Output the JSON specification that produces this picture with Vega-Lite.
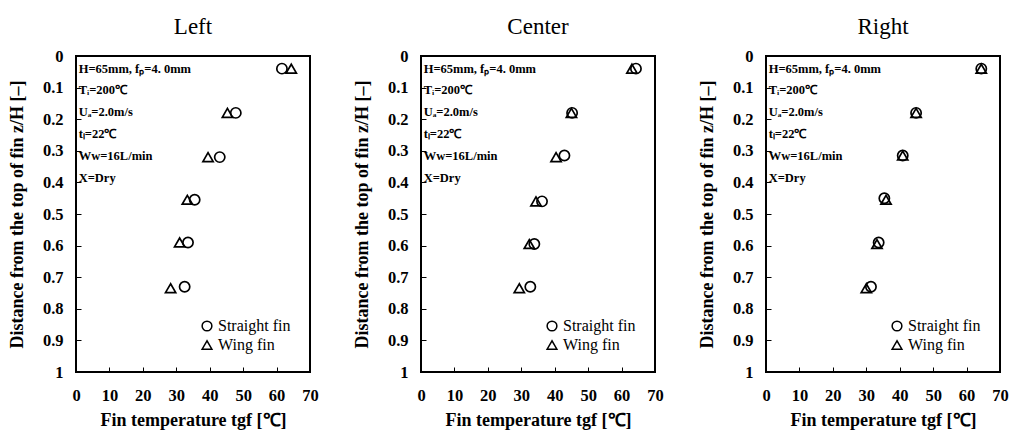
{
  "$schema": "https://vega.github.io/schema/vega-lite/v6.json",
  "background": "white",
  "padding": {"left": 7, "top": 15, "right": 3, "bottom": 0},
  "data": {"values": [
    {"panel": "Left", "fin": "Straight fin", "temp": 61.6, "z": 0.04},
    {"panel": "Left", "fin": "Straight fin", "temp": 47.8, "z": 0.18},
    {"panel": "Left", "fin": "Straight fin", "temp": 43.0, "z": 0.32},
    {"panel": "Left", "fin": "Straight fin", "temp": 35.5, "z": 0.455},
    {"panel": "Left", "fin": "Straight fin", "temp": 33.5, "z": 0.59},
    {"panel": "Left", "fin": "Straight fin", "temp": 32.5, "z": 0.73},
    {"panel": "Left", "fin": "Wing fin", "temp": 64.4, "z": 0.04},
    {"panel": "Left", "fin": "Wing fin", "temp": 45.3, "z": 0.18},
    {"panel": "Left", "fin": "Wing fin", "temp": 39.5, "z": 0.32},
    {"panel": "Left", "fin": "Wing fin", "temp": 33.3, "z": 0.455},
    {"panel": "Left", "fin": "Wing fin", "temp": 31.0, "z": 0.59},
    {"panel": "Left", "fin": "Wing fin", "temp": 28.3, "z": 0.735},
    {"panel": "Center", "fin": "Straight fin", "temp": 64.3, "z": 0.04},
    {"panel": "Center", "fin": "Straight fin", "temp": 45.2, "z": 0.18},
    {"panel": "Center", "fin": "Straight fin", "temp": 42.9, "z": 0.315},
    {"panel": "Center", "fin": "Straight fin", "temp": 36.2, "z": 0.46},
    {"panel": "Center", "fin": "Straight fin", "temp": 33.9, "z": 0.595},
    {"panel": "Center", "fin": "Straight fin", "temp": 32.7, "z": 0.73},
    {"panel": "Center", "fin": "Wing fin", "temp": 63.1, "z": 0.04},
    {"panel": "Center", "fin": "Wing fin", "temp": 45.0, "z": 0.18},
    {"panel": "Center", "fin": "Wing fin", "temp": 40.4, "z": 0.32},
    {"panel": "Center", "fin": "Wing fin", "temp": 34.4, "z": 0.46},
    {"panel": "Center", "fin": "Wing fin", "temp": 32.4, "z": 0.595},
    {"panel": "Center", "fin": "Wing fin", "temp": 29.4, "z": 0.735},
    {"panel": "Right", "fin": "Straight fin", "temp": 64.4, "z": 0.04},
    {"panel": "Right", "fin": "Straight fin", "temp": 44.9, "z": 0.18},
    {"panel": "Right", "fin": "Straight fin", "temp": 40.9, "z": 0.315},
    {"panel": "Right", "fin": "Straight fin", "temp": 35.4, "z": 0.45},
    {"panel": "Right", "fin": "Straight fin", "temp": 33.7, "z": 0.59},
    {"panel": "Right", "fin": "Straight fin", "temp": 31.4, "z": 0.73},
    {"panel": "Right", "fin": "Wing fin", "temp": 64.4, "z": 0.04},
    {"panel": "Right", "fin": "Wing fin", "temp": 44.9, "z": 0.18},
    {"panel": "Right", "fin": "Wing fin", "temp": 40.9, "z": 0.315},
    {"panel": "Right", "fin": "Wing fin", "temp": 35.9, "z": 0.455},
    {"panel": "Right", "fin": "Wing fin", "temp": 33.2, "z": 0.595},
    {"panel": "Right", "fin": "Wing fin", "temp": 30.0, "z": 0.735}
  ]},
  "spacing": 32,
  "resolve": {"scale": {"shape": "independent"}, "legend": {"shape": "independent"}},
  "hconcat": [
    {
      "title": "Left",
      "width": 234, "height": 316,
      "transform": [{"filter": "datum.panel === 'Left'"}],
      "layer": [
        {
          "mark": {"type": "point", "filled": false, "size": 105, "strokeWidth": 1.7, "color": "black", "opacity": 1},
          "encoding": {
            "x": {"field": "temp", "type": "quantitative", "scale": {"domain": [0, 70]}, "axis": {"title": "Fin temperature  tgf  [℃]", "values": [0,10,20,30,40,50,60,70], "labelOverlap": false, "labelFont": "Liberation Serif", "titleFont": "Liberation Serif"}},
            "y": {"field": "z", "type": "quantitative", "scale": {"domain": [0, 1], "reverse": true}, "axis": {"title": "Distance from the top of fin    z/H  [–]", "values": [0,0.1,0.2,0.3,0.4,0.5,0.6,0.7,0.8,0.9,1], "format": ".1~f", "labelOverlap": false, "labelFont": "Liberation Serif", "titleFont": "Liberation Serif"}},
            "shape": {"field": "fin", "type": "nominal", "scale": {"domain": ["Straight fin", "Wing fin"], "range": ["circle", "triangle-up"]}, "legend": {"title": null}}
          }
        },
        {
          "data": {"values": [{}]},
          "mark": {"type": "text", "align": "left", "baseline": "middle", "font": "Liberation Serif", "fontSize": 12.5, "fontWeight": "bold", "lineHeight": 21.8, "color": "black",
            "text": ["H=65mm, fₚ=4. 0mm", "Tᵢ=200℃", "Uₐ=2.0m/s", "tₗ=22℃", "Ww=16L/min", "X=Dry"]},
          "encoding": {
            "x": {"datum": 0.8, "type": "quantitative", "axis": {"title": "Fin temperature  tgf  [℃]", "values": [0,10,20,30,40,50,60,70], "labelOverlap": false, "labelFont": "Liberation Serif", "titleFont": "Liberation Serif"}},
            "y": {"datum": 0.04, "type": "quantitative", "axis": {"title": "Distance from the top of fin    z/H  [–]", "values": [0,0.1,0.2,0.3,0.4,0.5,0.6,0.7,0.8,0.9,1], "format": ".1~f", "labelOverlap": false, "labelFont": "Liberation Serif", "titleFont": "Liberation Serif"}}
          }
        }
      ]
    },
    {
      "title": "Center",
      "width": 234, "height": 316,
      "transform": [{"filter": "datum.panel === 'Center'"}],
      "layer": [
        {
          "mark": {"type": "point", "filled": false, "size": 105, "strokeWidth": 1.7, "color": "black", "opacity": 1},
          "encoding": {
            "x": {"field": "temp", "type": "quantitative", "scale": {"domain": [0, 70]}, "axis": {"title": "Fin temperature  tgf  [℃]", "values": [0,10,20,30,40,50,60,70], "labelOverlap": false, "labelFont": "Liberation Serif", "titleFont": "Liberation Serif"}},
            "y": {"field": "z", "type": "quantitative", "scale": {"domain": [0, 1], "reverse": true}, "axis": {"title": "Distance from the top of fin    z/H  [–]", "values": [0,0.1,0.2,0.3,0.4,0.5,0.6,0.7,0.8,0.9,1], "format": ".1~f", "labelOverlap": false, "labelFont": "Liberation Serif", "titleFont": "Liberation Serif"}},
            "shape": {"field": "fin", "type": "nominal", "scale": {"domain": ["Straight fin", "Wing fin"], "range": ["circle", "triangle-up"]}, "legend": {"title": null}}
          }
        },
        {
          "data": {"values": [{}]},
          "mark": {"type": "text", "align": "left", "baseline": "middle", "font": "Liberation Serif", "fontSize": 12.5, "fontWeight": "bold", "lineHeight": 21.8, "color": "black",
            "text": ["H=65mm, fₚ=4. 0mm", "Tᵢ=200℃", "Uₐ=2.0m/s", "tₗ=22℃", "Ww=16L/min", "X=Dry"]},
          "encoding": {
            "x": {"datum": 0.8, "type": "quantitative", "axis": {"title": "Fin temperature  tgf  [℃]", "values": [0,10,20,30,40,50,60,70], "labelOverlap": false, "labelFont": "Liberation Serif", "titleFont": "Liberation Serif"}},
            "y": {"datum": 0.04, "type": "quantitative", "axis": {"title": "Distance from the top of fin    z/H  [–]", "values": [0,0.1,0.2,0.3,0.4,0.5,0.6,0.7,0.8,0.9,1], "format": ".1~f", "labelOverlap": false, "labelFont": "Liberation Serif", "titleFont": "Liberation Serif"}}
          }
        }
      ]
    },
    {
      "title": "Right",
      "width": 234, "height": 316,
      "transform": [{"filter": "datum.panel === 'Right'"}],
      "layer": [
        {
          "mark": {"type": "point", "filled": false, "size": 105, "strokeWidth": 1.7, "color": "black", "opacity": 1},
          "encoding": {
            "x": {"field": "temp", "type": "quantitative", "scale": {"domain": [0, 70]}, "axis": {"title": "Fin temperature  tgf  [℃]", "values": [0,10,20,30,40,50,60,70], "labelOverlap": false, "labelFont": "Liberation Serif", "titleFont": "Liberation Serif"}},
            "y": {"field": "z", "type": "quantitative", "scale": {"domain": [0, 1], "reverse": true}, "axis": {"title": "Distance from the top of fin    z/H  [–]", "values": [0,0.1,0.2,0.3,0.4,0.5,0.6,0.7,0.8,0.9,1], "format": ".1~f", "labelOverlap": false, "labelFont": "Liberation Serif", "titleFont": "Liberation Serif"}},
            "shape": {"field": "fin", "type": "nominal", "scale": {"domain": ["Straight fin", "Wing fin"], "range": ["circle", "triangle-up"]}, "legend": {"title": null}}
          }
        },
        {
          "data": {"values": [{}]},
          "mark": {"type": "text", "align": "left", "baseline": "middle", "font": "Liberation Serif", "fontSize": 12.5, "fontWeight": "bold", "lineHeight": 21.8, "color": "black",
            "text": ["H=65mm, fₚ=4. 0mm", "Tᵢ=200℃", "Uₐ=2.0m/s", "tₗ=22℃", "Ww=16L/min", "X=Dry"]},
          "encoding": {
            "x": {"datum": 0.8, "type": "quantitative", "axis": {"title": "Fin temperature  tgf  [℃]", "values": [0,10,20,30,40,50,60,70], "labelOverlap": false, "labelFont": "Liberation Serif", "titleFont": "Liberation Serif"}},
            "y": {"datum": 0.04, "type": "quantitative", "axis": {"title": "Distance from the top of fin    z/H  [–]", "values": [0,0.1,0.2,0.3,0.4,0.5,0.6,0.7,0.8,0.9,1], "format": ".1~f", "labelOverlap": false, "labelFont": "Liberation Serif", "titleFont": "Liberation Serif"}}
          }
        }
      ]
    }
  ],
  "config": {
    "font": "Liberation Serif",
    "view": {"stroke": "black", "strokeWidth": 2},
    "title": {"font": "Liberation Serif", "fontSize": 23, "fontWeight": "normal", "color": "black", "anchor": "middle", "frame": "group", "offset": 9},
    "axis": {
      "domain": false, "grid": false, "labelOverlap": false,
      "tickColor": "black", "tickSize": -5, "tickWidth": 1,
      "labelFont": "Liberation Serif", "labelFontSize": 16.5, "labelFontWeight": "bold", "labelColor": "black",
      "titleFont": "Liberation Serif", "titleFontSize": 18, "titleFontWeight": "bold", "titleColor": "black"
    },
    "axisX": {"labelPadding": 20, "titlePadding": 8, "labelFlush": false},
    "axisY": {"labelPadding": 18, "titlePadding": 16, "labelFlush": false},
    "legend": {
      "orient": "bottom-right", "offset": 19,
      "labelFont": "Liberation Serif", "labelFontSize": 16, "labelColor": "black",
      "symbolStrokeColor": "black", "symbolStrokeWidth": 1.5, "symbolSize": 95, "symbolFillColor": "transparent",
      "rowPadding": 3, "labelOffset": 3
    }
  }
}
